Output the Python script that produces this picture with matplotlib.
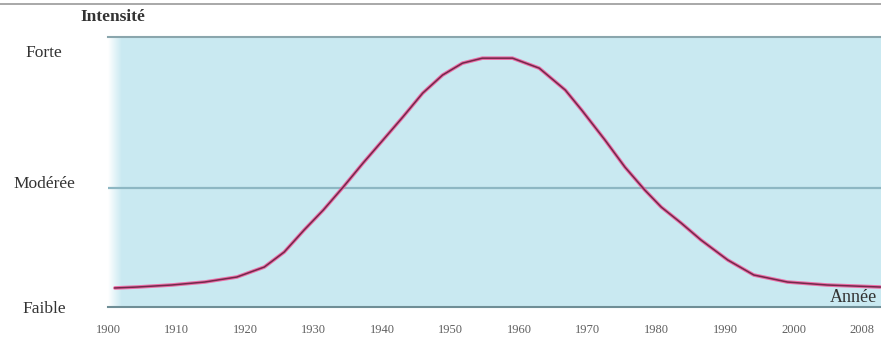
import numpy as np
import matplotlib
matplotlib.use("Agg")
import matplotlib.pyplot as plt
from matplotlib.lines import Line2D
import matplotlib.transforms as mtransforms

# ---- data ----
tick_years = [1900, 1910, 1920, 1930, 1940, 1950, 1960, 1970, 1980, 1990, 2000, 2008]
level_labels = ["Faible", "Modérée", "Forte"]
level_values = [0.0, 1.0, 2.15]

curve_years = [1901.0, 1904.3, 1909.3, 1914.1, 1918.8, 1922.8, 1925.7, 1928.6,
               1931.4, 1934.3, 1937.2, 1940.1, 1943.0, 1945.9, 1948.8, 1951.7,
               1954.6, 1959.0, 1962.9, 1966.7, 1969.1, 1972.5, 1975.4, 1978.3,
               1980.7, 1983.6, 1986.5, 1990.4, 1994.2, 1999.1, 2003.9, 2010.1]
curve_intensity = [0.160, 0.168, 0.185, 0.210, 0.252, 0.336, 0.462, 0.647,
                   0.815, 1.008, 1.210, 1.403, 1.597, 1.798, 1.950, 2.050,
                   2.092, 2.092, 2.008, 1.824, 1.655, 1.403, 1.176, 0.983,
                   0.840, 0.706, 0.563, 0.395, 0.269, 0.210, 0.185, 0.168]


def year_to_pos(y):
    y = np.asarray(y, dtype=float)
    return np.where(y <= 2000, (y - 1900) / 10.0, 10 + (y - 2000) / 8.0)


W, H = 881, 340
fig = plt.figure(figsize=(W / 100, H / 100), dpi=100)
fig.patch.set_facecolor("white")

ax = fig.add_axes([108 / W, 1 - 307 / H, 1 - 108 / W, (307 - 37) / H])
ax.set_facecolor("#c9e9f1")
ax.set_xlim(0.072, 11.275)
ax.set_ylim(0, 2.27)

# soft white fade at the left edge
grad = np.linspace(1, 0, 64).reshape(1, -1)
cmap = matplotlib.colors.LinearSegmentedColormap.from_list(
    "fade", [(1, 1, 1, 0), (1, 1, 1, 1)])
ax.imshow(grad, extent=[0, 0.018, 0, 1], transform=ax.transAxes,
          cmap=cmap, aspect="auto", zorder=1)

# moderate reference line
ax.axhline(level_values[1], color="#8db7c3", lw=1.6, zorder=2)

x = year_to_pos(curve_years)
ax.plot(x, curve_intensity, color="#f0589a", lw=2.6, alpha=0.85,
        solid_capstyle="round", solid_joinstyle="round", zorder=3)
ax.plot(x, curve_intensity, color="#74284a", lw=1.1,
        solid_joinstyle="round", zorder=4)

for s in ["left", "right"]:
    ax.spines[s].set_visible(False)
ax.spines["bottom"].set_color("#6f8e96")
ax.spines["bottom"].set_linewidth(1.5)
ax.spines["top"].set_color("#8aa6ad")
ax.spines["top"].set_linewidth(1.5)

ax.set_xticks(year_to_pos(tick_years))
ax.set_xticklabels([str(t) for t in tick_years], fontfamily="Liberation Serif",
                   fontsize=9, color="#606060")
ax.tick_params(axis="x", length=0, pad=12)

ax.set_yticks(level_values)
ax.set_yticklabels(level_labels, fontfamily="Liberation Serif", fontsize=12.5,
                   color="#333333", ha="center")
ax.tick_params(axis="y", length=0, pad=46)
ytl = ax.get_yticklabels()
off = mtransforms.ScaledTranslation(0, 6 / 100, fig.dpi_scale_trans)
ytl[1].set_transform(ytl[1].get_transform() + off)

# titles
fig.text(113 / W, 1 - 17 / H, "Intensité", fontfamily="Liberation Serif",
         fontsize=12.5, fontweight="bold", color="#333333", ha="center", va="center")
fig.text(830 / W, 1 - 297 / H, "Année", fontfamily="Liberation Serif",
         fontsize=13, color="#333333", ha="left", va="center")

# thin grey rule at the very top
fig.add_artist(Line2D([0, 1], [1 - 4 / H, 1 - 4 / H], transform=fig.transFigure,
                      color="#999999", lw=1.2))

fig.savefig("out.png", dpi=100)
